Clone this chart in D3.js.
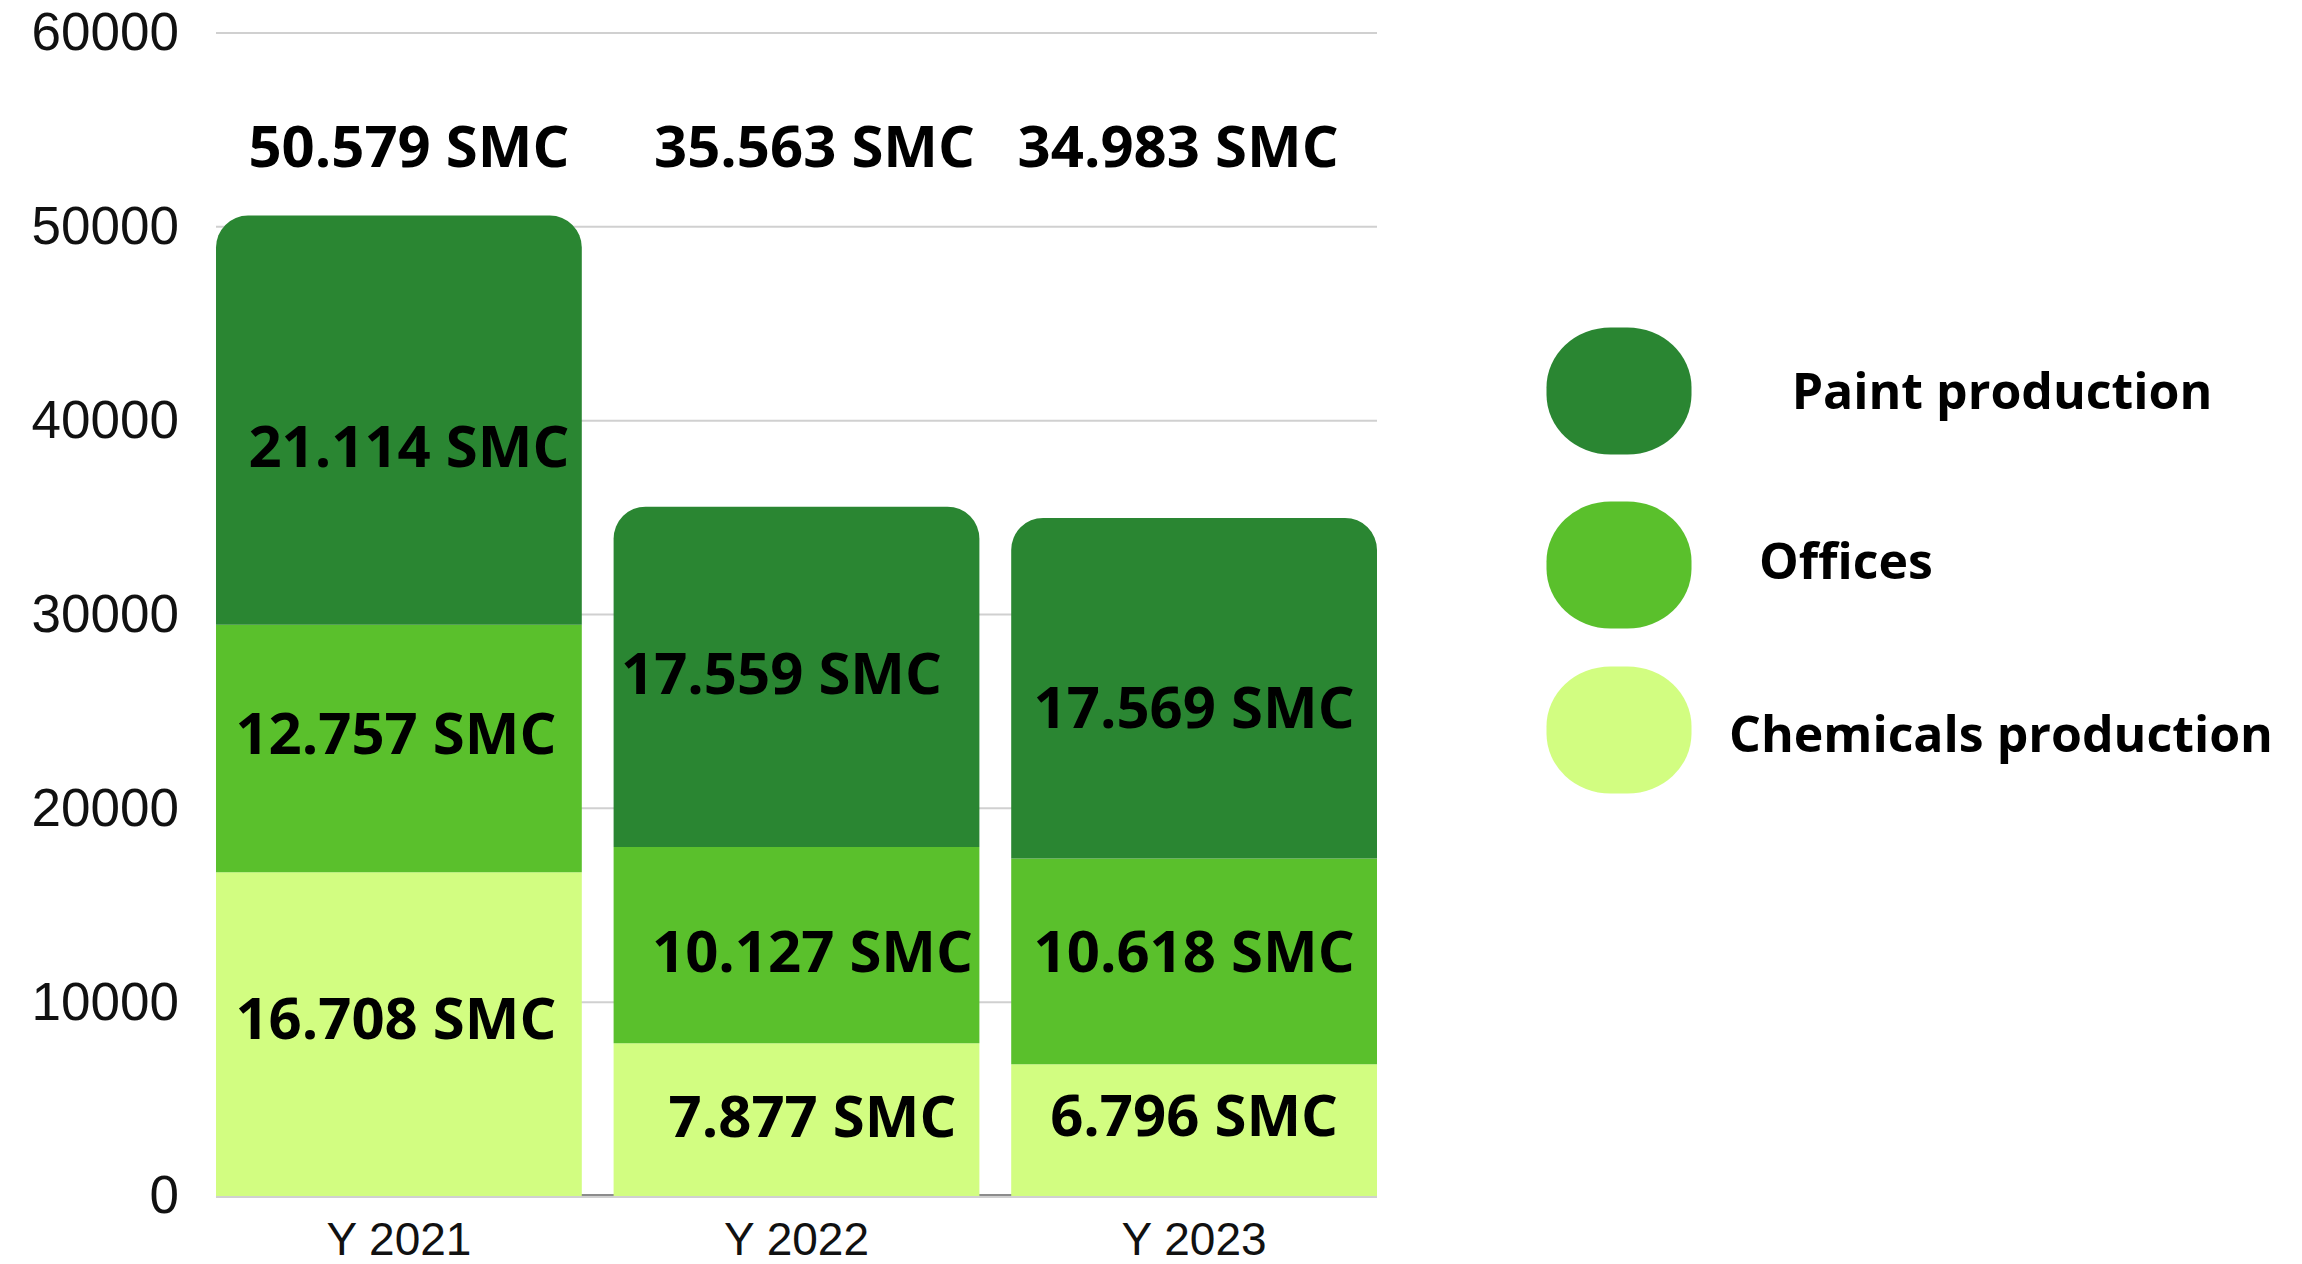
<!DOCTYPE html>
<html>
<head>
<meta charset="utf-8">
<script src="https://cdn.jsdelivr.net/npm/d3@7"></script>
<style>
  html, body { margin: 0; padding: 0; background: #ffffff; }
  svg { display: block; }
</style>
</head>
<body>
<svg id="chart" width="2302" height="1264"></svg>
<script>
// ---------- data ----------
const years = ["Y 2021", "Y 2022", "Y 2023"];
const seriesNames = ["Chemicals production", "Offices", "Paint production"];
const chemicals = [16708, 7877, 6796];
const offices = [12757, 10127, 10618];
const paint = [21114, 17559, 17569];
const yTicks = [0, 10000, 20000, 30000, 40000, 50000, 60000];
const legendOrder = ["Paint production", "Offices", "Chemicals production"];

// ---------- style / layout ----------
const colors = {
  "Chemicals production": "#d2fd81",
  "Offices": "#5ac02c",
  "Paint production": "#2a8632"
};
// small hand-placement offsets of the labels (pixels), as in the original design
const labelNudge = {
  "Paint production": [[10, 26], [-15, -4], [0, 19]],
  "Offices": [[-3, -15], [16, 6], [0, -10]],
  "Chemicals production": [[-3, -16], [16, -4], [0, -15]]
};
const totalNudge = [10, 18, -16];

const W = 2302, H = 1264;
const plot = { left: 216, right: 1377, top: 33, bottom: 1196 };

const svg = d3.select("#chart");
svg.append("rect").attr("width", W).attr("height", H).attr("fill", "#fff");

const rows = years.map((yr, i) => ({
  year: yr,
  "Chemicals production": chemicals[i],
  "Offices": offices[i],
  "Paint production": paint[i]
}));

const x = d3.scaleBand().domain(years).range([plot.left, plot.right]).paddingInner(0.08).paddingOuter(0);
const y = d3.scaleLinear().domain([0, 60000]).range([plot.bottom, plot.top]);

const stack = d3.stack().keys(seriesNames);
const layers = stack(rows);

const loc = d3.formatLocale({ decimal: ",", thousands: ".", grouping: [3], currency: ["", ""] });
const fmt = v => loc.format(",")(v) + " SMC";

// gridlines
svg.append("g").selectAll("line").data(yTicks).join("line")
  .attr("x1", plot.left).attr("x2", plot.right)
  .attr("y1", d => y(d) + (d === 0 ? 1 : 0)).attr("y2", d => y(d) + (d === 0 ? 1 : 0))
  .attr("stroke", "#d0d0d0").attr("stroke-width", 2);

// axis baseline (dark, visible between bars)
svg.append("line")
  .attr("x1", plot.left).attr("x2", plot.right)
  .attr("y1", y(0) - 1).attr("y2", y(0) - 1)
  .attr("stroke", "#666").attr("stroke-width", 1.5);

// y axis
const yAxis = svg.append("g")
  .attr("transform", `translate(${plot.left},0)`)
  .call(d3.axisLeft(y).tickValues(yTicks).tickSize(0).tickPadding(37).tickFormat(d3.format("d")));
yAxis.select(".domain").remove();
yAxis.selectAll("text")
  .attr("font-family", "'Liberation Sans', Arial, sans-serif")
  .attr("font-size", 53).attr("fill", "#111");

// x axis
const xAxis = svg.append("g")
  .attr("transform", `translate(0,${plot.bottom})`)
  .call(d3.axisBottom(x).tickSize(0).tickPadding(26));
xAxis.select(".domain").remove();
xAxis.selectAll("text")
  .attr("font-family", "'Liberation Sans', Arial, sans-serif")
  .attr("font-size", 46).attr("fill", "#111");

// bars
const r = 32;
function topRounded(x0, y0, w, h, rad) {
  const rr = Math.min(rad, h, w / 2);
  return `M${x0},${y0 + h}V${y0 + rr}A${rr},${rr} 0 0 1 ${x0 + rr},${y0}H${x0 + w - rr}A${rr},${rr} 0 0 1 ${x0 + w},${y0 + rr}V${y0 + h}Z`;
}

const topKey = seriesNames[seriesNames.length - 1];
const barG = svg.append("g");
layers.forEach(layer => {
  barG.append("g").selectAll("path").data(layer).join("path")
    .attr("fill", colors[layer.key])
    .attr("d", d => {
      const x0 = x(d.data.year), w = x.bandwidth();
      const y0 = y(d[1]), h = y(d[0]) - y(d[1]);
      return layer.key === topKey ? topRounded(x0, y0, w, h, r) : `M${x0},${y0}h${w}v${h}h${-w}Z`;
    });
});

// segment labels
const labelFont = "'Open Sans', 'Noto Sans', sans-serif";
layers.forEach(layer => {
  svg.append("g").selectAll("text").data(layer).join("text")
    .attr("x", (d, i) => x(d.data.year) + x.bandwidth() / 2 + labelNudge[layer.key][i][0])
    .attr("y", (d, i) => (y(d[0]) + y(d[1])) / 2 + labelNudge[layer.key][i][1])
    .attr("dy", "0.36em")
    .attr("text-anchor", "middle")
    .attr("font-family", labelFont).attr("font-weight", 700).attr("font-size", 58)
    .attr("fill", "#000")
    .text(d => fmt(d[1] - d[0]));
});

// totals row
const totals = rows.map((d, i) => chemicals[i] + offices[i] + paint[i]);
svg.append("g").selectAll("text").data(years).join("text")
  .attr("x", (d, i) => x(d) + x.bandwidth() / 2 + totalNudge[i])
  .attr("y", 146)
  .attr("dy", "0.36em")
  .attr("text-anchor", "middle")
  .attr("font-family", labelFont).attr("font-weight", 700).attr("font-size", 58)
  .attr("fill", "#000")
  .text((d, i) => fmt(totals[i]));

// legend
const legendSwatchX = 1619;
const legendY = [391, 565, 730];
const legendTextY = [391, 561, 734];
const legendTextX = [2002, 1846, 2001];
const lg = svg.append("g");
legendOrder.forEach((name, i) => {
  lg.append("rect")
    .attr("x", legendSwatchX - 72.5).attr("y", legendY[i] - 63.5)
    .attr("width", 145).attr("height", 127)
    .attr("rx", 64).attr("ry", 60)
    .attr("fill", colors[name]);
  lg.append("text")
    .attr("x", legendTextX[i]).attr("y", legendTextY[i])
    .attr("dy", "0.36em")
    .attr("text-anchor", "middle")
    .attr("font-family", labelFont).attr("font-weight", 700).attr("font-size", 50)
    .attr("fill", "#000")
    .text(name);
});
</script>
</body>
</html>
